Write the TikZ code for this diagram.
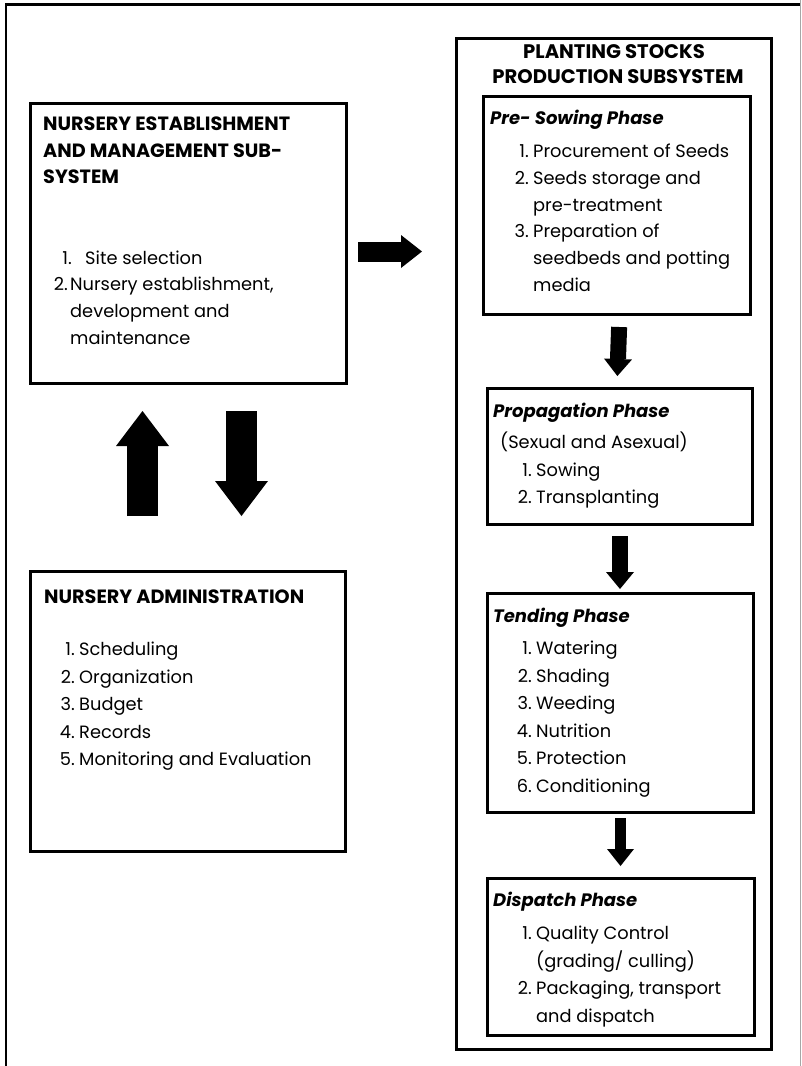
\documentclass[tikz,border=0pt]{standalone}
\usepackage{fontspec}
\setmainfont{Poppins}
\usetikzlibrary{arrows.meta}
\tikzset{
  box/.style={draw, line width=3pt, inner sep=0pt, anchor=north west},
  hd/.style={font=\fontsize{19.2}{22}\selectfont\bfseries, anchor=base west, inner sep=0pt},
  hdc/.style={font=\fontsize{19.6}{22}\selectfont\bfseries, anchor=base, inner sep=0pt},
  ph/.style={font=\fontsize{18}{22}\selectfont\bfseries\itshape, anchor=base west, inner sep=0pt},
  tx/.style={font=\fontsize{17.8}{22}\selectfont, anchor=base west, inner sep=0pt},
  nm/.style={font=\fontsize{17.8}{22}\selectfont, anchor=base east, inner sep=0pt},
}
\begin{document}
\begin{tikzpicture}[x=1pt,y=-1pt]
\useasboundingbox (0,0) rectangle (801,1066);
% outer frame
\draw[line width=2.5pt] (6,1066) -- (6,4.5) -- (801,4.5);
\draw[black!35, line width=1pt] (800.3,0) -- (800.3,1066);

% left boxes
\node[box, minimum width=316pt, minimum height=280pt] (est) at (29,102) {};
\node[box, minimum width=315pt, minimum height=280pt] (adm) at (29,570) {};
% right boxes
\node[box, minimum width=315pt, minimum height=1011pt] (psb) at (455,37) {};
\node[box, minimum width=267pt, minimum height=218pt] (pre) at (482,95) {};
\node[box, minimum width=265pt, minimum height=136pt] (prop) at (486,387) {};
\node[box, minimum width=266pt, minimum height=219pt] (tend) at (486,592) {};
\node[box, minimum width=267pt, minimum height=157pt] (disp) at (486,877) {};

% establishment text
\node[hd] (e1) at (43,130) {NURSERY ESTABLISHMENT};
\node[hd] (e2) at (43,157) {AND MANAGEMENT SUB-};
\node[hd] (e3) at (43,183) {SYSTEM};
\node[nm] (en1) at (72,264) {1.};
\node[tx] (et1) at (85,264) {Site selection};
\node[nm] (en2) at (68,290) {2.};
\node[tx] (et2) at (70,290) {Nursery establishment,};
\node[tx] (et3) at (70,317) {development and};
\node[tx] (et4) at (70,344) {maintenance};

% administration text
\node[hd] (a0) at (44,603) {NURSERY ADMINISTRATION};
\node[nm] (an1) at (75,655) {1.};
\node[tx] (at1) at (79,655) {Scheduling};
\node[nm] (an2) at (75,683) {2.};
\node[tx] (at2) at (79,683) {Organization};
\node[nm] (an3) at (75,710) {3.};
\node[tx] (at3) at (79,710) {Budget};
\node[nm] (an4) at (75,738) {4.};
\node[tx] (at4) at (79,738) {Records};
\node[nm] (an5) at (75,765) {5.};
\node[tx] (at5) at (79,765) {Monitoring and Evaluation};

% planting stocks heading
\node[hdc] (p1) at (614,58) {PLANTING STOCKS};
\node[hdc] (p2) at (618,83) {PRODUCTION SUBSYSTEM};

% pre-sowing
\node[ph] (s0) at (490,124) {Pre- Sowing Phase};
\node[nm] (sn1) at (529,157) {1.};
\node[tx] (st1) at (533,157) {Procurement of Seeds};
\node[nm] (sn2) at (529,184) {2.};
\node[tx] (st2) at (533,184) {Seeds storage and};
\node[tx] (st3) at (533,211) {pre-treatment};
\node[nm] (sn3) at (529,237) {3.};
\node[tx] (st4) at (533,237) {Preparation of};
\node[tx] (st5) at (533,264) {seedbeds and potting};
\node[tx] (st6) at (533,291) {media};

% propagation
\node[ph] (g0) at (493,417) {Propagation Phase};
\node[tx] (g1) at (500,448) {(Sexual and Asexual)};
\node[nm] (gn1) at (532,476) {1.};
\node[tx] (gt1) at (536,476) {Sowing};
\node[nm] (gn2) at (532,503) {2.};
\node[tx] (gt2) at (536,503) {Transplanting};

% tending
\node[ph] (t0) at (493,622) {Tending Phase};
\node[nm] (tn1) at (532,654) {1.};
\node[tx] (tt1) at (536,654) {Watering};
\node[nm] (tn2) at (532,682) {2.};
\node[tx] (tt2) at (536,682) {Shading};
\node[nm] (tn3) at (532,709) {3.};
\node[tx] (tt3) at (536,709) {Weeding};
\node[nm] (tn4) at (532,737) {4.};
\node[tx] (tt4) at (536,737) {Nutrition};
\node[nm] (tn5) at (532,764) {5.};
\node[tx] (tt5) at (536,764) {Protection};
\node[nm] (tn6) at (532,792) {6.};
\node[tx] (tt6) at (536,792) {Conditioning};

% dispatch
\node[ph] (d0) at (493,906) {Dispatch Phase};
\node[nm] (dn1) at (532,939) {1.};
\node[tx] (dt1) at (536,939) {Quality Control};
\node[tx] (dt2) at (536,967) {(grading/ culling)};
\node[nm] (dn2) at (532,994) {2.};
\node[tx] (dt3) at (536,994) {Packaging, transport};
\node[tx] (dt4) at (536,1022) {and dispatch};

% block arrows
\coordinate (r1) at (358,251.5);
\coordinate (r2) at (422,251.5);
\draw[line width=20pt, -{Triangle[length=21pt,width=33pt,line width=0pt]}] (r1) -- (r2);
\coordinate (u1) at (142.5,516);
\coordinate (u2) at (142.5,411);
\draw[line width=31pt, -{Triangle[length=35pt,width=53pt,line width=0pt]}] (u1) -- (u2);
\coordinate (v1) at (241.5,411);
\coordinate (v2) at (241.5,516);
\draw[line width=31pt, -{Triangle[length=35pt,width=53pt,line width=0pt]}] (v1) -- (v2);
\draw[line width=16pt, -{Triangle[length=17pt,width=28pt,line width=0pt]}, shorten <=11pt, shorten >=11pt] ([xshift=2.5pt]pre.south) -- ([xshift=0pt]pre.south |- prop.north);
\draw[line width=16pt, -{Triangle[length=17pt,width=28pt,line width=0pt]}, shorten <=10pt, shorten >=3pt] (prop.south) -- (prop.south |- tend.north);
\draw[line width=11pt, -{Triangle[length=17pt,width=27pt,line width=0pt]}, shorten <=4pt, shorten >=11pt] (tend.south) -- (tend.south |- disp.north);
\end{tikzpicture}
\end{document}
